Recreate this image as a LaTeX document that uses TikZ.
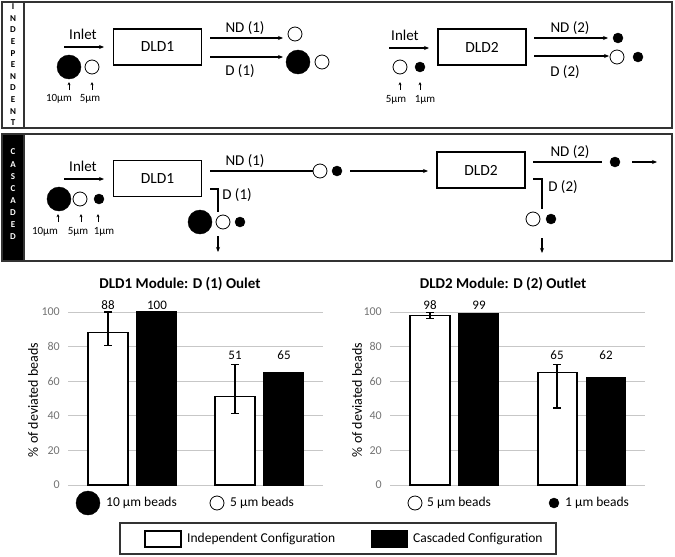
\documentclass[tikz,border=0pt]{standalone}
\usepackage{fontspec}
\setmainfont{Carlito}
\usetikzlibrary{arrows.meta}
\newcommand{\fs}[1]{\fontsize{#1}{#1}\selectfont}
\begin{document}
\begin{tikzpicture}[x=1pt,y=-1pt,
  frame/.style={draw=black!80,line width=1.1pt},
  dldbox/.style={draw,line width=1.2pt,minimum width=88pt,minimum height=36pt,inner sep=0pt,font=\fs{15.5}},
  lbl/.style={font=\fs{15},inner sep=0pt},
  sz/.style={font=\fs{11},inner sep=0pt},
  stl/.style={font=\bfseries\fs{9},inner sep=0pt},
  bigb/.style={circle,fill=black,draw=black,minimum size=24pt,inner sep=0pt},
  midw/.style={circle,fill=white,draw=black,line width=0.8pt,minimum size=14pt,inner sep=0pt},
  smb/.style={circle,fill=black,draw=black,minimum size=10pt,inner sep=0pt},
  arr/.style={-{Stealth[length=5pt,width=4pt]},line width=1.1pt},
  tick/.style={-{Stealth[length=3.2pt,width=3pt]},line width=0.5pt},
  flow/.style={line width=1.1pt},
  grid/.style={draw=black!22,line width=0.7pt},
  ytl/.style={font=\fs{12},text=black!55,anchor=east,inner sep=0pt},
  val/.style={font=\fs{13},inner sep=0pt},
  ttl/.style={font=\bfseries\fs{15},inner sep=0pt},
  ytitle/.style={font=\fs{14},rotate=90,inner sep=0pt},
  wbar/.style={draw=black,fill=white,line width=1.2pt},
  bbar/.style={draw=black,fill=black,line width=1.2pt},
  ebar/.style={line width=1.1pt},
  leg/.style={font=\fs{13.5},anchor=west,inner sep=0pt}]
\useasboundingbox (0,0) rectangle (675,557);

% ================= Panel 1: independent =================
\draw[frame] (2,2) rectangle (672,128);
\draw[frame] (2,2) rectangle (24,128);
\foreach \l [count=\i] in {I,N,D,E,P,E,N,D,E,N,T}
  \node[stl] (si\i) at (13,{6.5+(\i-1)*11.65}) {\l};

% left half
\node[lbl] (in1) at (83,34) {Inlet};
\coordinate (ia1) at (64,47); \coordinate (ib1) at (104,47);
\draw[arr] (ia1) -- (ib1);
\node[bigb] (p1b10) at (69,67) {};
\node[midw] (p1b5) at (92,67) {};
\coordinate (t1a) at (69,90); \coordinate (t1b) at (69,82);
\coordinate (t2a) at (92,90); \coordinate (t2b) at (92,82);
\draw[tick] (t1a) -- (t1b);
\draw[tick] (t2a) -- (t2b);
\node[sz] (l10a) at (59,99) {10µm};
\node[sz] (l5a) at (90,99) {5µm};
\node[dldbox] (d1) at (157.5,47) {DLD1};
\coordinate (n1a) at (210,38); \coordinate (n1b) at (283,38);
\coordinate (m1a) at (210,57); \coordinate (m1b) at (283,57);
\draw[arr] (n1a) -- (n1b);
\draw[arr] (m1a) -- (m1b);
\node[lbl] (nd1) at (245,28) {ND (1)};
\node[lbl] (dd1) at (240,71) {D (1)};
\node[midw] (o1w) at (295,34) {};
\node[bigb] (o1b) at (298,62) {};
\node[midw] (o1w2) at (322,62) {};

% right half
\node[lbl] (in2) at (405,35) {Inlet};
\coordinate (ia2) at (389,48); \coordinate (ib2) at (429,48);
\draw[arr] (ia2) -- (ib2);
\node[midw] (p1c5) at (400,67) {};
\node[smb] (p1c1) at (420,67) {};
\coordinate (t3a) at (400,90); \coordinate (t3b) at (400,82);
\coordinate (t4a) at (420,90); \coordinate (t4b) at (420,82);
\draw[tick] (t3a) -- (t3b);
\draw[tick] (t4a) -- (t4b);
\node[sz] (l5b) at (396,100) {5µm};
\node[sz] (l1b) at (425,100) {1µm};
\node[dldbox] (d2) at (482,47) {DLD2};
\coordinate (n2a) at (534,38); \coordinate (n2b) at (608,38);
\coordinate (m2a) at (534,56); \coordinate (m2b) at (609,56);
\draw[arr] (n2a) -- (n2b);
\draw[arr] (m2a) -- (m2b);
\node[lbl] (nd2) at (570,28) {ND (2)};
\node[lbl] (dd2) at (565,72) {D (2)};
\node[smb] (o2b) at (618,38) {};
\node[midw] (o2w) at (617,57) {};
\node[smb] (o2b2) at (638,57) {};

% ================= Panel 2: cascaded =================
\draw[frame] (2,134) rectangle (672,261);
\fill[black] (2,134) rectangle (24,261);
\draw[frame] (2,134) rectangle (24,261);
\foreach \l [count=\i] in {C,A,S,C,A,D,E,D}
  \node[stl,text=white] (sc\i) at (13,{152+(\i-1)*12.14}) {\l};

\node[lbl] (in3) at (83,166) {Inlet};
\coordinate (ia3) at (64,179); \coordinate (ib3) at (104,179);
\draw[arr] (ia3) -- (ib3);
\node[bigb] (p2b10) at (59,199) {};
\node[midw] (p2b5) at (80,199) {};
\node[smb] (p2b1) at (99,199) {};
\coordinate (t5a) at (58,222); \coordinate (t5b) at (58,214);
\coordinate (t6a) at (81,222); \coordinate (t6b) at (81,214);
\coordinate (t7a) at (98,222); \coordinate (t7b) at (98,214);
\draw[tick] (t5a) -- (t5b);
\draw[tick] (t6a) -- (t6b);
\draw[tick] (t7a) -- (t7b);
\node[sz] (l10c) at (45,232) {10µm};
\node[sz] (l5c) at (78,232) {5µm};
\node[sz] (l1c) at (104,232) {1µm};
\node[dldbox] (d3) at (157.5,178.5) {DLD1};

% ND(1) to beads to DLD2
\coordinate (n3a) at (210,171);
\node[midw] (c1w) at (320,171) {};
\node[smb] (c1b) at (337,171) {};
\draw[flow] (n3a) -- (c1w.west);
\node[lbl] (nd3) at (245,161) {ND (1)};
\node[dldbox] (d4) at (481,170) {DLD2};
\coordinate (c2a) at (350,171); \coordinate (c2b) at (428,171);
\draw[arr] (c2a) -- (c2b);

% D(1) bent path
\coordinate (k1a) at (210,189); \coordinate (k1b) at (218,189); \coordinate (k1c) at (218,212);
\draw[flow] (k1a) -- (k1b) -- (k1c);
\node[lbl] (dd3) at (237,195) {D (1)};
\node[bigb] (c3b) at (200,222) {};
\node[midw] (c3w) at (223,222) {};
\node[smb] (c3s) at (240,222) {};
\coordinate (k1d) at (218,236); \coordinate (k1e) at (218,252);
\draw[arr] (k1d) -- (k1e);

% ND(2)
\coordinate (n4a) at (533,162); \coordinate (n4b) at (602,162);
\draw[flow] (n4a) -- (n4b);
\node[lbl] (nd4) at (570,152) {ND (2)};
\node[smb] (c4b) at (615,162) {};
\coordinate (c4a) at (632,162); \coordinate (c4e) at (657,162);
\draw[arr] (c4a) -- (c4e);

% D(2) bent path
\coordinate (k2a) at (533,179); \coordinate (k2b) at (542,179); \coordinate (k2c) at (542,209);
\draw[flow] (k2a) -- (k2b) -- (k2c);
\node[lbl] (dd4) at (563,187) {D (2)};
\node[midw] (c5w) at (533,219) {};
\node[smb] (c5b) at (551,219) {};
\coordinate (k2d) at (542,238); \coordinate (k2e) at (542,253);
\draw[arr] (k2d) -- (k2e);

% ================= Left chart =================
\node[ttl] (t1) at (180,284) {DLD1 Module: D (1) Oulet};
\foreach \v in {0,20,...,100} {
  \draw[grid] (68,{485-1.73*\v}) -- (323,{485-1.73*\v});
  \node[ytl] (ya\v) at (60,{485-1.73*\v}) {\v};
}
\node[ytitle] (yt1) at (33,400) {\% of deviated beads};
\draw[wbar] (88,485) rectangle (128,{485-1.73*88});
\draw[bbar] (137,485) rectangle (176,{485-1.73*100});
\draw[wbar] (215,485) rectangle (255,{485-1.73*51});
\draw[bbar] (264,485) rectangle (303,{485-1.73*65});
\draw[ebar] (108,{485-1.73*80.5}) -- (108,{485-1.73*100});
\draw[ebar] (104,{485-1.73*80.5}) -- (112,{485-1.73*80.5});
\draw[ebar] (104,{485-1.73*100}) -- (112,{485-1.73*100});
\draw[ebar] (235,{485-1.73*41.5}) -- (235,{485-1.73*69.5});
\draw[ebar] (231,{485-1.73*41.5}) -- (239,{485-1.73*41.5});
\draw[ebar] (231,{485-1.73*69.5}) -- (239,{485-1.73*69.5});
\node[val] (v1) at (108,305) {88};
\node[val] (v2) at (157,305) {100};
\node[val] (v3) at (235,355) {51};
\node[val] (v4) at (284,355) {65};
\node[bigb] (lg1) at (88,503) {};
\node[leg] (lg1t) at (106,503) {10 µm beads};
\node[midw] (lg2) at (217,503) {};
\node[leg] (lg2t) at (230,503) {5 µm beads};

% ================= Right chart =================
\node[ttl] (t2) at (503,284) {DLD2 Module: D (2) Outlet};
\foreach \v in {0,20,...,100} {
  \draw[grid] (390,{485-1.73*\v}) -- (645,{485-1.73*\v});
  \node[ytl] (yb\v) at (382,{485-1.73*\v}) {\v};
}
\node[ytitle] (yt2) at (357,400) {\% of deviated beads};
\draw[wbar] (410,485) rectangle (450,{485-1.73*98});
\draw[bbar] (459,485) rectangle (498,{485-1.73*99});
\draw[wbar] (538,485) rectangle (577,{485-1.73*65});
\draw[bbar] (587,485) rectangle (625,{485-1.73*62});
\draw[ebar] (430,{485-1.73*96.3}) -- (430,{485-1.73*99.7});
\draw[ebar] (426,{485-1.73*96.3}) -- (434,{485-1.73*96.3});
\draw[ebar] (426,{485-1.73*99.7}) -- (434,{485-1.73*99.7});
\draw[ebar] (557,{485-1.73*44.5}) -- (557,{485-1.73*69.5});
\draw[ebar] (553,{485-1.73*44.5}) -- (561,{485-1.73*44.5});
\draw[ebar] (553,{485-1.73*69.5}) -- (561,{485-1.73*69.5});
\node[val] (v5) at (430,305) {98};
\node[val] (v6) at (479,305) {99};
\node[val] (v7) at (557,355) {65};
\node[val] (v8) at (606,355) {62};
\node[midw] (lg3) at (415,503) {};
\node[leg] (lg3t) at (427,503) {5 µm beads};
\node[smb] (lg4) at (554,503) {};
\node[leg] (lg4t) at (565,503) {1 µm beads};

% ================= Bottom legend =================
\draw[frame] (120,523) rectangle (556,554);
\node[draw,line width=1.2pt,minimum width=36pt,minimum height=16pt,inner sep=0pt] (sw1) at (163,539) {};
\node[leg] (sw1t) at (187,539) {Independent Configuration};
\node[draw,fill=black,line width=1.2pt,minimum width=35pt,minimum height=16pt,inner sep=0pt] (sw2) at (389.5,539) {};
\node[leg] (sw2t) at (413,539) {Cascaded Configuration};
\end{tikzpicture}
\end{document}
